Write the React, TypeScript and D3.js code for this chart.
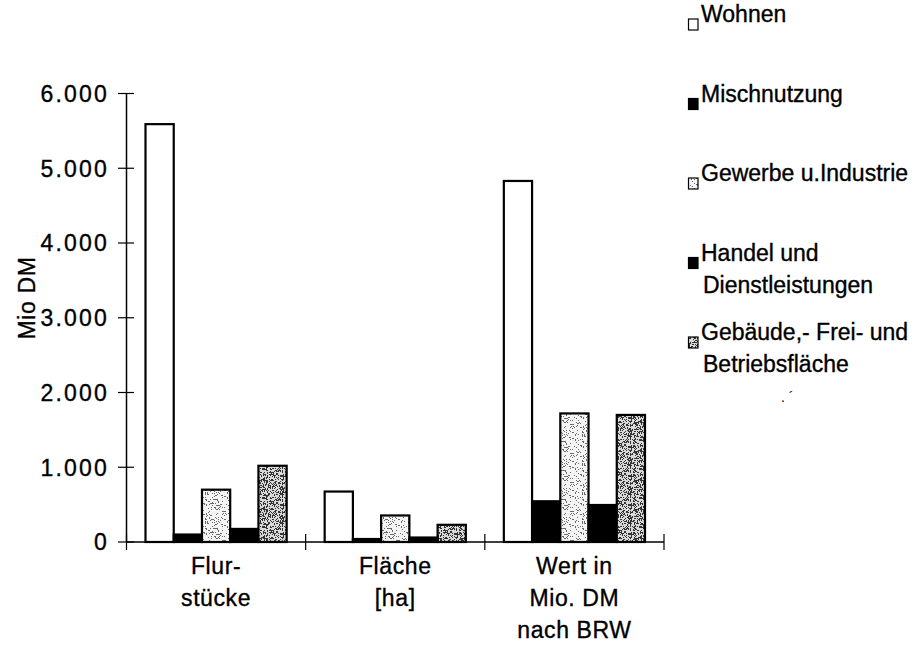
import React from "react";
import * as d3 from "d3";

// Categories on the x axis (each label may wrap over several lines)
const categories = ["Flur", "Flaeche", "Wert"];
const categoryLines: string[][] = [
  ["Flur-", "stücke"],
  ["Fläche", "[ha]"],
  ["Wert in", "Mio. DM", "nach BRW"],
];

// Series (land use types)
const seriesNames = ["Wohnen", "Mischnutzung", "Gewerbe", "Handel", "Gebaeude"];
const legendLines: string[][] = [
  ["Wohnen"],
  ["Mischnutzung"],
  ["Gewerbe u.Industrie"],
  ["Handel und", "Dienstleistungen"],
  ["Gebäude,- Frei- und", "Betriebsfläche"],
];

// Values per series, one entry per category
const wohnen = [5590, 675, 4830];
const mischnutzung = [100, 40, 545];
const gewerbe = [700, 355, 1720];
const handel = [175, 60, 495];
const gebaeude = [1020, 230, 1700];
const seriesValues = [wohnen, mischnutzung, gewerbe, handel, gebaeude];

// Y axis
const yTicks = [0, 1000, 2000, 3000, 4000, 5000, 6000];
const yTickLabels = ["0", "1.000", "2.000", "3.000", "4.000", "5.000", "6.000"];
const yTitle = "Mio DM";

const W = 917;
const H = 650;
const FONT = "'Liberation Sans', Arial, Helvetica, sans-serif";

// Deterministic stipple dots for the textured fills
function stippleDots(n: number, size: number, seed: number) {
  const pts: [number, number][] = [];
  let s = seed;
  for (let i = 0; i < n; i++) {
    s = (s * 9301 + 49297) % 233280;
    const px = Math.floor((s / 233280) * size);
    s = (s * 9301 + 49297) % 233280;
    const py = Math.floor((s / 233280) * size);
    pts.push([px, py]);
  }
  return pts;
}

const TILE = 29;
const lightDots = stippleDots(150, TILE, 7);
const denseDots = stippleDots(420, TILE, 13);

const textStyle = {
  fontSize: 23,
  letterSpacing: 0.6,
  fill: "#000",
  stroke: "#000",
  strokeWidth: 0.35,
};

export default function App() {
  const x0 = d3.scaleBand<string>().domain(categories).range([126.5, 664]).padding(0);
  const bw = x0.bandwidth();
  const x1 = d3
    .scaleBand<string>()
    .domain(seriesNames)
    .range([19, bw - 19])
    .padding(0);
  const y = d3.scaleLinear().domain([0, 6000]).range([542, 93.5]);

  const fills = ["#ffffff", "#000000", "url(#stippleLight)", "#000000", "url(#stippleDense)"];

  const boundaries = [...categories.map((c) => x0(c)!), x0.range()[1]];

  return (
    <svg
      width={W}
      height={H}
      style={{ position: "absolute", left: 0, top: 0, background: "#fff" }}
      fontFamily={FONT}
    >
      <defs>
        <pattern id="stippleLight" width={TILE} height={TILE} patternUnits="userSpaceOnUse">
          <rect width={TILE} height={TILE} fill="#f4f4f4" />
          {lightDots.map(([px, py], i) => (
            <rect key={i} x={px} y={py} width={1} height={1} fill="#6a6a6a" />
          ))}
        </pattern>
        <pattern id="stippleDense" width={TILE} height={TILE} patternUnits="userSpaceOnUse">
          <rect width={TILE} height={TILE} fill="#d9d9d9" />
          {denseDots.map(([px, py], i) => (
            <rect key={i} x={px} y={py} width={1} height={1} fill="#333" />
          ))}
        </pattern>
      </defs>

      {/* bars */}
      {categories.map((c, ci) =>
        seriesNames.map((s, si) => {
          const v = seriesValues[si][ci];
          const bx = x0(c)! + x1(s)!;
          const by = y(v);
          return (
            <rect
              key={c + s}
              x={bx}
              y={by}
              width={x1.bandwidth()}
              height={y(0) - by}
              fill={fills[si]}
              stroke="#000"
              strokeWidth={2.2}
            />
          );
        })
      )}

      {/* y axis */}
      <line x1={126.5} x2={126.5} y1={y(6000)} y2={y(0)} stroke="#000" strokeWidth={1.5} />
      {yTicks.map((t, i) => (
        <g key={t}>
          <line x1={118} x2={134} y1={y(t)} y2={y(t)} stroke="#000" strokeWidth={1.2} />
          <text x={109} y={y(t)} dy="0.36em" textAnchor="end" {...textStyle} letterSpacing={2.2}>
            {yTickLabels[i]}
          </text>
        </g>
      ))}
      <text transform="translate(35,298) rotate(-90)" textAnchor="middle" {...textStyle}>
        {yTitle}
      </text>

      {/* x axis */}
      <line x1={126.5} x2={664} y1={y(0)} y2={y(0)} stroke="#000" strokeWidth={1.5} />
      {boundaries.map((bx, i) => (
        <line key={i} x1={bx} x2={bx} y1={y(0) - 8} y2={y(0) + 8} stroke="#000" strokeWidth={1.2} />
      ))}
      {categories.map((c, ci) => (
        <text key={c} x={x0(c)! + bw / 2} y={574} textAnchor="middle" {...textStyle}>
          {categoryLines[ci].map((ln, li) => (
            <tspan key={li} x={x0(c)! + bw / 2} dy={li === 0 ? 0 : 32}>
              {ln}
            </tspan>
          ))}
        </text>
      ))}

      {/* legend */}
      {legendLines.map((lines, i) => {
        const cy = 22 + i * 79.5;
        return (
          <g key={i}>
            <rect
              x={688.5}
              y={cy - 3}
              width={9.5}
              height={11}
              fill={fills[i]}
              stroke="#000"
              strokeWidth={1.2}
            />
            <text x={701} y={cy} dy="0.36em" {...textStyle} letterSpacing={0}>
              {lines.map((ln, li) => (
                <tspan key={li} x={li === 0 ? 701 : 703} dy={li === 0 ? 0 : 32}>
                  {ln}
                </tspan>
              ))}
            </text>
          </g>
        );
      })}
      <text x={781} y={402} fontSize={14} fill="#000">
        {".  ´"}
      </text>
    </svg>
  );
}
